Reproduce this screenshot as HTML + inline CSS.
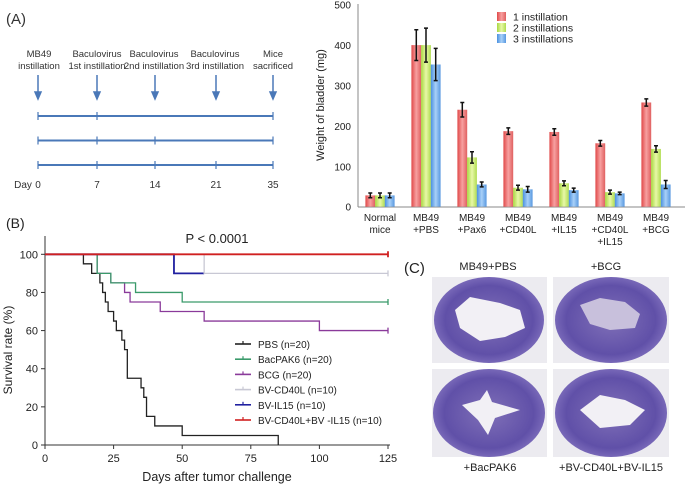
<!DOCTYPE html>
<html><head><meta charset="utf-8">
<style>
body{margin:0;background:#fff;}
svg{display:block;font-family:"Liberation Sans",Arial,sans-serif;}
</style></head>
<body>
<svg id="fig" width="685" height="488" viewBox="0 0 685 488">
<defs>
<linearGradient id="gR" x1="0" x2="1"><stop offset="0" stop-color="#e04848"/><stop offset="0.5" stop-color="#f7a0a0"/><stop offset="1" stop-color="#e06060"/></linearGradient>
<linearGradient id="gG" x1="0" x2="1"><stop offset="0" stop-color="#a8d840"/><stop offset="0.5" stop-color="#e8f8a8"/><stop offset="1" stop-color="#b0dc50"/></linearGradient>
<linearGradient id="gB" x1="0" x2="1"><stop offset="0" stop-color="#4a90e0"/><stop offset="0.5" stop-color="#a8d0f8"/><stop offset="1" stop-color="#5898e0"/></linearGradient>
<radialGradient id="tis"><stop offset="0" stop-color="#8070b8"/><stop offset="0.8" stop-color="#6050a8"/><stop offset="1" stop-color="#7868b8"/></radialGradient>
</defs>

<g font-size="10" fill="#333">
<text x="6" y="24" font-size="15">(A)</text>
<g fill="#333" font-size="9.5" text-anchor="middle">
<text x="39" y="57">MB49</text><text x="39" y="69">instillation</text>
<text x="97" y="57">Baculovirus</text><text x="97" y="69">1st instillation</text>
<text x="154" y="57">Baculovirus</text><text x="154" y="69">2nd instillation</text>
<text x="215" y="57">Baculovirus</text><text x="215" y="69">3rd instillation</text>
<text x="273" y="57">Mice</text><text x="273" y="69">sacrificed</text>
</g>
<g stroke="#4a78b8" stroke-width="1.5" fill="#4a78b8" id="arrows"></g>
<g stroke="#4a78b8" stroke-width="2" id="tlines"></g>
<g font-size="10" text-anchor="middle" fill="#333">
<text x="23" y="188">Day</text><text x="38" y="188">0</text><text x="97" y="188">7</text><text x="155" y="188">14</text><text x="216" y="188">21</text><text x="273" y="188">35</text>
</g>
</g>

<g id="bar"></g>
<g id="surv"></g>

<g>
<text x="404" y="273" font-size="15" fill="#222">(C)</text>
<text x="488" y="270" font-size="11" text-anchor="middle" fill="#222">MB49+PBS</text>
<text x="606" y="270" font-size="11" text-anchor="middle" fill="#222">+BCG</text>
<text x="490" y="471" font-size="11" text-anchor="middle" fill="#222">+BacPAK6</text>
<text x="611" y="471" font-size="11" text-anchor="middle" fill="#222">+BV-CD40L+BV-IL15</text>
<g><rect x="432" y="277" width="115" height="86" fill="#ecebf0"/><ellipse cx="489" cy="320" rx="55" ry="43" fill="url(#tis)"/><path d="M455 310 L470 297 L500 303 L520 310 L525 328 L505 337 L480 341 L460 328 Z" fill="#f2f0f5"/></g>
<g><rect x="553" y="277" width="116" height="86" fill="#ecebf0"/><ellipse cx="611" cy="320" rx="56" ry="43" fill="url(#tis)"/><path d="M580 305 L600 298 L625 302 L640 314 L635 328 L610 330 L590 324 Z" fill="#c8c0dc"/></g>
<g><rect x="432" y="369" width="115" height="88" fill="#ecebf0"/><ellipse cx="489" cy="413" rx="56" ry="44" fill="url(#tis)"/><path d="M462 405 L480 400 L487 390 L492 402 L520 410 L495 418 L488 435 L478 420 Z" fill="#f2f0f5"/></g>
<g><rect x="553" y="369" width="116" height="88" fill="#ecebf0"/><ellipse cx="611" cy="413" rx="56" ry="44" fill="url(#tis)"/><path d="M580 410 L600 395 L625 400 L645 410 L630 425 L600 428 Z" fill="#f2f0f5"/></g>
</g>
</svg>

<script>
const NS="http://www.w3.org/2000/svg";
function mk(tag,attrs,parent){const e=document.createElementNS(NS,tag);for(const k in attrs)e.setAttribute(k,attrs[k]);parent.appendChild(e);return e;}

// ---- timeline ----
const tlDays=[0,7,14,21,35];
const tlPos={0:38,7:97,14:155,21:216,35:273};
const tlX=d=>tlPos[d];
const arrowsG=document.getElementById('arrows');
tlDays.forEach(d=>{const x=tlX(d);
 const l=mk('line',{x1:x,y1:75,x2:x,y2:93},arrowsG);
 
 
 mk('path',{d:`M${x-3} ${92} L${x+3} ${92} L${x} ${99} Z`},arrowsG);});
const tlG=document.getElementById('tlines');
const rows=[[0,7,35],[0,7,14,35],[0,7,14,21,35]];
rows.forEach((r,i)=>{const y=116+i*24.5;
 const ln=mk('line',{x1:tlX(0),y1:y,x2:tlX(35),y2:y},tlG);
 
 
 r.forEach(d=>mk('line',{x1:tlX(d),y1:y-4,x2:tlX(d),y2:y+4,'stroke-width':1.2},tlG));});

// ---- bar chart ----
const barCats=[["Normal","mice"],["MB49","+PBS"],["MB49","+Pax6"],["MB49","+CD40L"],["MB49","+IL15"],["MB49","+CD40L","+IL15"],["MB49","+BCG"]];
const s1=[28,400,240,187,185,157,258];
const s2=[28,400,122,47,58,36,143];
const s3=[28,352,55,43,41,33,55];
const e1=[6,38,18,8,8,7,9];
const e2=[6,42,14,6,6,5,8];
const e3=[6,40,6,7,5,3,10];
const barTicks=[0,100,200,300,400,500];
const barSeries=["1 instillation","2 instillations","3 instillations"];
const bar=document.getElementById('bar');
const by=v=>206.7-v*(206.7-4.7)/500;
const bx=i=>380+i*46;
mk('line',{x1:358,y1:4,x2:358,y2:207,stroke:'#888'},bar);
mk('line',{x1:358,y1:207,x2:685,y2:207,stroke:'#888'},bar);
barTicks.forEach(t=>{const tx=mk('text',{x:351,y:by(t)+4,'font-size':10,'text-anchor':'end',fill:'#222'},bar);tx.textContent=t;
 
 });
const yt=mk('text',{transform:'translate(324,105) rotate(-90)','font-size':11,'text-anchor':'middle',fill:'#222'},bar);
yt.textContent='Weight of bladder (mg)';


const fills=['url(#gR)','url(#gG)','url(#gB)'];
[[s1,e1],[s2,e2],[s3,e3]].forEach(([s,e],k)=>{
 s.forEach((v,i)=>{const x=bx(i)+(k-1)*9.7-4.9;
  const r=mk('rect',{x:x,y:by(v),width:9.8,height:206.7-by(v),fill:fills[k]},bar);
  
  
  const cx=x+4.9;
  mk('path',{d:`M${cx} ${by(v+e[i])} V${by(v-e[i])} M${cx-2} ${by(v+e[i])} H${cx+2} M${cx-2} ${by(v-e[i])} H${cx+2}`,stroke:'#111','stroke-width':1.5,fill:'none'},bar);
 });});
barCats.forEach((c,i)=>{c.forEach((w,j)=>{const t=mk('text',{x:bx(i),y:221+j*12,'font-size':10,'text-anchor':'middle',fill:'#222'},bar);t.textContent=w;
 
 });});
barSeries.forEach((n,k)=>{const y=12+k*11;
 mk('rect',{x:497,y:y,width:9,height:9,fill:fills[k]},bar);
 const t=mk('text',{x:513,y:y+8.5,'font-size':10.5,fill:'#222'},bar);t.textContent=n;
 
 });

// ---- survival ----
const survNames=["PBS (n=20)","BacPAK6 (n=20)","BCG (n=20)","BV-CD40L (n=10)","BV-IL15 (n=10)","BV-CD40L+BV -IL15 (n=10)"];
const survColors=["#222","#3a9a6a","#8a3a9a","#c8c8d4","#2020a0","#d02020"];
const pbsT=[14,17,20,21,22,23,25,26,28,29,30,35,36,37,40,50,85];
const pbsS=[95,90,85,80,75,70,65,60,55,50,35,30,25,15,10,5,0];
const bacT=[19,24,33,50];
const bacS=[90,85,80,75];
const bcgT=[19,24,29,31,42,58,100];
const bcgS=[90,85,80,75,70,65,60];
const cdT=[58];
const cdS=[90];
const ilT=[47];
const ilS=[90];
const comboT=[];
const comboS=[];
const survEnd=[85,125,125,125,58,125];
const xTicks=[0,25,50,75,100,125];
const yTicks=[0,20,40,60,80,100];
const sv=document.getElementById('surv');
const sx=d=>45+d*(388-45)/125;
const sy=v=>445-v*(445-254.3)/100;
const lbl=mk('text',{x:6,y:228,'font-size':14,fill:'#222'},sv);lbl.textContent='(B)';


const pv=mk('text',{x:217,y:243,'font-size':13,'text-anchor':'middle',fill:'#222'},sv);pv.textContent='P < 0.0001';


mk('line',{x1:45,y1:236,x2:45,y2:445,stroke:'#333'},sv);
mk('line',{x1:45,y1:445,x2:390,y2:445,stroke:'#333'},sv);
xTicks.forEach(t=>{mk('line',{x1:sx(t),y1:445,x2:sx(t),y2:449,stroke:'#333'},sv);
 const tx=mk('text',{x:sx(t),y:462,'font-size':11,'text-anchor':'middle',fill:'#222'},sv);tx.textContent=t;
 
 });
yTicks.forEach(t=>{mk('line',{x1:41,y1:sy(t),x2:45,y2:sy(t),stroke:'#333'},sv);
 const tx=mk('text',{x:38,y:sy(t)+4,'font-size':11,'text-anchor':'end',fill:'#222'},sv);tx.textContent=t;
 
 });
const xt=mk('text',{x:217,y:481,'font-size':12.5,'text-anchor':'middle',fill:'#222'},sv);xt.textContent='Days after tumor challenge';


const yt2=mk('text',{transform:'translate(12,350) rotate(-90)','font-size':12,'text-anchor':'middle',fill:'#222'},sv);yt2.textContent='Survival rate (%)';


const curves=[[pbsT,pbsS],[bacT,bacS],[bcgT,bcgS],[cdT,cdS],[ilT,ilS],[comboT,comboS]];
const order=[0,2,1,4,3,5];
order.forEach(k=>{const [T,S]=curves[k];let d=`M${sx(0)} ${sy(100)}`;let prev=100;
 T.forEach((t,i)=>{d+=` H${sx(t)} V${sy(S[i])}`;prev=S[i];});
 d+=` H${sx(survEnd[k])}`;
 if(survEnd[k]===125)d+=` M${sx(125)} ${sy(prev)-3} V${sy(prev)+3}`;
 const p=mk('path',{d:d,stroke:survColors[k],'stroke-width':k>=4?1.8:1.3,fill:'none'},sv);
 
 });
survNames.forEach((n,k)=>{const y=344+k*15.2;
 mk('line',{x1:235,y1:y,x2:251,y2:y,stroke:survColors[k],'stroke-width':1.6},sv);
 mk('line',{x1:243,y1:y-3,x2:243,y2:y,stroke:survColors[k],'stroke-width':1.2},sv);
 const t=mk('text',{x:258,y:y+4,'font-size':10,fill:'#222'},sv);t.textContent=n;
 
 });
</script>
</body></html>
